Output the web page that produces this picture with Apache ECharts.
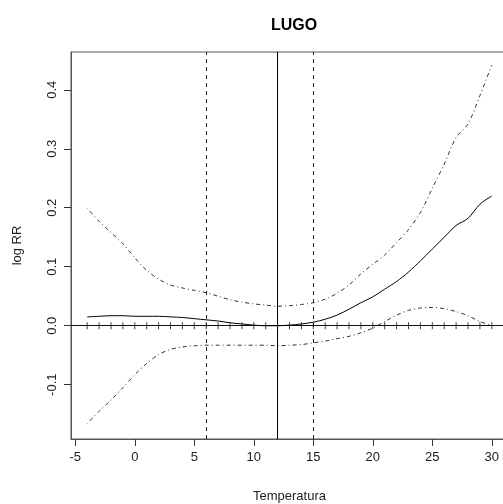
<!DOCTYPE html>
<html><head><meta charset="utf-8">
<script src="https://cdn.jsdelivr.net/npm/echarts@6/dist/echarts.min.js"></script>
<style>html,body{margin:0;padding:0;background:#fff}#c{width:503px;height:504px}</style>
</head><body><div id="c"></div>
<script>
var title = 'LUGO';
var temps = [-4,-3,-2,-1,0,1,2,3,4,5,6,7,8,9,10,11,12,13,14,15,16,17,18,19,20,21,22,23,24,25,26,27,28,29,30];
var logRR = [0.015,0.016,0.017,0.017,0.016,0.016,0.016,0.015,0.014,0.012,0.010,0.008,0.005,0.003,0.001,0.000,0.000,0.001,0.003,0.006,0.011,0.018,0.028,0.039,0.049,0.062,0.075,0.091,0.110,0.130,0.150,0.170,0.182,0.206,0.220];
var upperCI = [0.199,0.177,0.158,0.139,0.115,0.094,0.079,0.069,0.064,0.060,0.056,0.050,0.044,0.040,0.037,0.035,0.033,0.034,0.036,0.039,0.045,0.055,0.069,0.088,0.104,0.120,0.141,0.163,0.192,0.233,0.274,0.319,0.342,0.390,0.442];
var lowerCI = [-0.166,-0.145,-0.126,-0.105,-0.083,-0.064,-0.049,-0.040,-0.036,-0.034,-0.033,-0.033,-0.033,-0.033,-0.033,-0.033,-0.034,-0.033,-0.032,-0.029,-0.026,-0.022,-0.018,-0.012,-0.004,0.007,0.018,0.026,0.030,0.031,0.029,0.024,0.017,0.007,0.001];
var xTicks = [-5,0,5,10,15,20,25,30];
var yTicks = [-0.1,0.0,0.1,0.2,0.3,0.4];
var refDashed = [6,15];
var refSolid = [12];
var xRange = [-5.36, 31.36];
var yRange = [-0.192, 0.464];

function pairs(v){ return temps.map(function(t,i){return [t,v[i]];}); }
var font = 'Liberation Sans, Arial, sans-serif';
var chart = echarts.init(document.getElementById('c'));
chart.setOption({
  animation:false,
  backgroundColor:'#fff',
  title:{text:title,left:289,textAlign:'center',top:13,textStyle:{fontFamily:font,fontSize:16,fontWeight:'bold',color:'#000'}},
  grid:{left:71,top:52,width:437,height:387,show:true,borderColor:'#555',borderWidth:1,containLabel:false,outerBoundsMode:'none'},
  xAxis:{type:'value',min:xRange[0],max:xRange[1],
    name:'Temperatura',nameLocation:'middle',nameGap:51,
    nameTextStyle:{fontFamily:font,fontSize:13,color:'#222'},
    axisLine:{show:true,onZero:false,lineStyle:{color:'#555'}},
    axisTick:{show:true,inside:false,length:7,customValues:xTicks,lineStyle:{color:'#333'}},
    axisLabel:{customValues:xTicks,margin:12,fontFamily:font,fontSize:13,color:'#222',formatter:function(v){return String(Math.round(v));}},
    splitLine:{show:false}},
  yAxis:{type:'value',min:yRange[0],max:yRange[1],
    name:'log RR',nameLocation:'middle',nameGap:47,nameRotate:90,
    nameTextStyle:{fontFamily:font,fontSize:13,color:'#222'},
    axisLine:{show:true,onZero:false,lineStyle:{color:'#555'}},
    axisTick:{show:true,inside:false,length:7,customValues:yTicks,lineStyle:{color:'#333'}},
    axisLabel:{customValues:yTicks,rotate:90,margin:12,fontFamily:font,fontSize:13,color:'#222',formatter:function(v){return v.toFixed(1);}},
    splitLine:{show:false}},
  series:[
    {type:'line',data:pairs(logRR),symbol:'none',smooth:0.3,lineStyle:{color:'#000',width:1},z:5,
      markLine:{silent:true,symbol:'none',label:{show:false},
        data:[{yAxis:0,lineStyle:{color:'#111',width:1,type:'solid'}}]
          .concat(refSolid.map(function(x){return {xAxis:x,lineStyle:{color:'#000',width:1,type:'solid'}};}))
          .concat(refDashed.map(function(x){return {xAxis:x,lineStyle:{color:'#222',width:1,type:[4,4]}};}))}},
    {type:'line',data:pairs(upperCI),symbol:'none',smooth:0.3,lineStyle:{color:'#333',width:1,type:[1,3,4,3]},z:4},
    {type:'line',data:pairs(lowerCI),symbol:'none',smooth:0.3,lineStyle:{color:'#333',width:1,type:[1,3,4,3]},z:4},
    {type:'scatter',data:temps.map(function(t){return [t,0];}),symbol:'rect',symbolSize:[1,7],itemStyle:{color:'#111'},z:6}
  ]
});
</script></body></html>
